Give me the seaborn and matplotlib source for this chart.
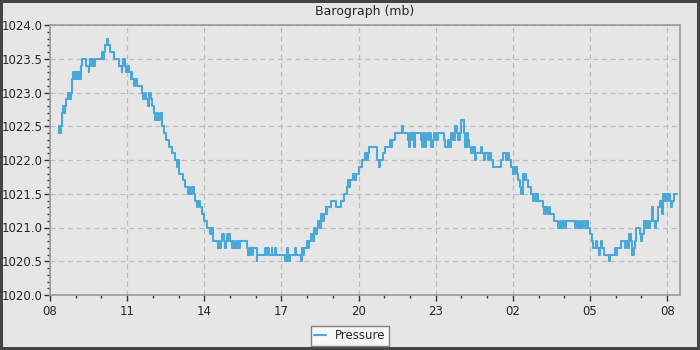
import pandas as pd
import seaborn as sns
import matplotlib.pyplot as plt
import matplotlib.dates as mdates
from matplotlib.ticker import MultipleLocator, FormatStrFormatter

# Barograph readings: minutes after 08:00 and pressure (mb), logged on change
minutes = [
    20, 22, 23, 25, 28, 30, 34, 35, 37, 41, 43, 45, 47, 48, 51, 53, 55, 58, 60, 63,
    66, 68, 70, 72, 75, 83, 90, 92, 94, 97, 99, 101, 104, 121, 123, 125, 129, 132, 136, 140,
    150, 162, 167, 169, 171, 175, 178, 181, 184, 188, 190, 192, 196, 199, 203, 215, 218, 221, 224, 228,
    230, 232, 235, 238, 243, 246, 249, 253, 257, 261, 266, 271, 277, 284, 292, 296, 299, 302, 310, 316,
    321, 324, 327, 331, 335, 338, 344, 346, 350, 355, 359, 367, 373, 376, 380, 391, 393, 395, 398, 402,
    405, 408, 411, 413, 416, 419, 421, 424, 427, 430, 433, 436, 438, 441, 443, 460, 463, 467, 471, 474,
    482, 484, 502, 504, 507, 512, 517, 519, 525, 527, 548, 552, 555, 558, 560, 572, 575, 585, 587, 590,
    593, 599, 602, 605, 609, 613, 616, 619, 622, 625, 629, 632, 636, 640, 643, 646, 647, 655, 668, 678,
    687, 693, 695, 698, 700, 708, 711, 714, 722, 728, 735, 739, 742, 745, 762, 764, 767, 770, 776, 782,
    793, 796, 799, 804, 821, 824, 835, 837, 839, 845, 847, 850, 852, 866, 868, 871, 874, 877, 880, 884,
    887, 890, 893, 897, 901, 905, 920, 922, 928, 932, 936, 941, 944, 949, 952, 957, 958, 966, 969, 972,
    975, 978, 983, 988, 991, 994, 1006, 1008, 1013, 1016, 1022, 1025, 1030, 1033, 1053, 1058, 1063, 1067, 1071, 1075,
    1081, 1086, 1089, 1093, 1097, 1100, 1103, 1106, 1109, 1111, 1115, 1123, 1127, 1129, 1133, 1136, 1139, 1150, 1153, 1156,
    1160, 1164, 1167, 1177, 1186, 1189, 1193, 1197, 1201, 1205, 1224, 1228, 1232, 1236, 1240, 1244, 1248, 1252, 1256, 1259,
    1264, 1268, 1273, 1277, 1281, 1283, 1286, 1289, 1292, 1304, 1307, 1318, 1320, 1322, 1333, 1341, 1345, 1349, 1351, 1356,
    1359, 1362, 1365, 1368, 1376, 1379, 1382, 1387, 1390, 1393, 1396, 1399, 1404, 1407, 1411, 1415, 1419, 1424, 1427, 1431,
    1434, 1437, 1440, 1443, 1446, 1449, 1452, 1455, 1462,
]
pressure = [
    1022.4, 1022.5, 1022.4, 1022.5, 1022.7, 1022.8, 1022.7, 1022.8, 1022.9, 1023.0, 1022.9, 1023.0, 1022.9, 1023.0, 1023.2, 1023.3, 1023.2, 1023.3, 1023.2, 1023.3,
    1023.2, 1023.3, 1023.2, 1023.4, 1023.5, 1023.4, 1023.3, 1023.4, 1023.5, 1023.4, 1023.5, 1023.4, 1023.5, 1023.6, 1023.5, 1023.6, 1023.7, 1023.8, 1023.7, 1023.6,
    1023.5, 1023.4, 1023.3, 1023.4, 1023.5, 1023.4, 1023.3, 1023.4, 1023.3, 1023.2, 1023.3, 1023.2, 1023.1, 1023.2, 1023.1, 1023.0, 1022.9, 1023.0, 1022.9, 1022.8,
    1022.9, 1023.0, 1022.9, 1022.8, 1022.7, 1022.6, 1022.7, 1022.6, 1022.7, 1022.5, 1022.4, 1022.3, 1022.2, 1022.1, 1022.0, 1021.9, 1022.0, 1021.8, 1021.7, 1021.6,
    1021.5, 1021.6, 1021.5, 1021.6, 1021.5, 1021.4, 1021.3, 1021.4, 1021.3, 1021.2, 1021.1, 1021.0, 1020.9, 1021.0, 1020.8, 1020.7, 1020.8, 1020.7, 1020.8, 1020.9,
    1020.8, 1020.7, 1020.8, 1020.9, 1020.8, 1020.9, 1020.8, 1020.7, 1020.8, 1020.7, 1020.8, 1020.7, 1020.8, 1020.7, 1020.8, 1020.7, 1020.6, 1020.7, 1020.6, 1020.7,
    1020.5, 1020.6, 1020.7, 1020.6, 1020.7, 1020.6, 1020.7, 1020.6, 1020.7, 1020.6, 1020.5, 1020.7, 1020.6, 1020.5, 1020.6, 1020.7, 1020.6, 1020.5, 1020.7, 1020.6,
    1020.7, 1020.8, 1020.7, 1020.8, 1020.9, 1020.8, 1021.0, 1020.9, 1021.0, 1021.1, 1021.0, 1021.2, 1021.1, 1021.2, 1021.3, 1021.2, 1021.3, 1021.4, 1021.3, 1021.4,
    1021.5, 1021.6, 1021.7, 1021.6, 1021.7, 1021.8, 1021.7, 1021.8, 1021.9, 1022.0, 1022.1, 1022.0, 1022.1, 1022.2, 1022.1, 1022.0, 1021.9, 1022.0, 1022.1, 1022.2,
    1022.3, 1022.2, 1022.3, 1022.4, 1022.5, 1022.4, 1022.3, 1022.2, 1022.4, 1022.3, 1022.4, 1022.2, 1022.4, 1022.3, 1022.2, 1022.4, 1022.2, 1022.3, 1022.4, 1022.3,
    1022.4, 1022.2, 1022.3, 1022.4, 1022.3, 1022.4, 1022.3, 1022.2, 1022.3, 1022.2, 1022.4, 1022.3, 1022.5, 1022.4, 1022.3, 1022.4, 1022.6, 1022.4, 1022.2, 1022.4,
    1022.3, 1022.2, 1022.1, 1022.2, 1022.0, 1022.1, 1022.2, 1022.1, 1022.0, 1022.1, 1022.0, 1022.1, 1022.0, 1021.9, 1022.0, 1022.1, 1022.0, 1022.1, 1022.0, 1021.9,
    1021.8, 1021.9, 1021.8, 1021.7, 1021.6, 1021.5, 1021.8, 1021.7, 1021.8, 1021.7, 1021.6, 1021.5, 1021.4, 1021.5, 1021.4, 1021.5, 1021.4, 1021.3, 1021.2, 1021.3,
    1021.2, 1021.3, 1021.2, 1021.1, 1021.0, 1021.1, 1021.0, 1021.1, 1021.0, 1021.1, 1021.0, 1021.1, 1021.0, 1021.1, 1021.0, 1021.1, 1021.0, 1021.1, 1021.0, 1020.9,
    1020.8, 1020.7, 1020.8, 1020.7, 1020.6, 1020.7, 1020.8, 1020.7, 1020.6, 1020.5, 1020.6, 1020.7, 1020.6, 1020.7, 1020.8, 1020.7, 1020.8, 1020.7, 1020.9, 1020.8,
    1020.6, 1020.7, 1020.8, 1021.0, 1020.9, 1020.8, 1020.9, 1021.1, 1021.0, 1021.1, 1021.0, 1021.1, 1021.3, 1021.1, 1021.0, 1021.1, 1021.3, 1021.4, 1021.2, 1021.5,
    1021.4, 1021.5, 1021.4, 1021.5, 1021.4, 1021.3, 1021.4, 1021.5, 1021.5,
]

start = pd.Timestamp("2024-01-01 08:00")
df = pd.DataFrame({
    "time": start + pd.to_timedelta(minutes, unit="m"),
    "pressure": pressure,
})

bg = "#e6e6e6"
sns.set_style("ticks", {"axes.facecolor": bg, "figure.facecolor": bg})
plt.rcParams["font.family"] = ["DejaVu Sans"]

fig = plt.figure(figsize=(7, 3.5), dpi=100, facecolor=bg, edgecolor="#444444", linewidth=3)
ax = fig.add_axes([50 / 700, 55 / 350, 630 / 700, 270 / 350])

sns.lineplot(data=df, x="time", y="pressure", ax=ax, drawstyle="steps-post",
             color="#4aa8d8", linewidth=1.5, estimator=None, sort=False, label="Pressure")

ax.set_xlim(start, start + pd.Timedelta(hours=24.5))
ax.set_ylim(1020.0, 1024.0)
ax.xaxis.set_major_locator(mdates.HourLocator(byhour=range(2, 24, 3)))
ax.xaxis.set_minor_locator(mdates.HourLocator())
ax.xaxis.set_major_formatter(mdates.DateFormatter("%H"))
ax.yaxis.set_major_locator(MultipleLocator(0.5))
ax.yaxis.set_minor_locator(MultipleLocator(0.1))
ax.yaxis.set_major_formatter(FormatStrFormatter("%.1f"))

ax.grid(True, which="major", color="#bdbdbd", linestyle=(0, (4, 3)), linewidth=0.9)
for s in ax.spines.values():
    s.set_color("#9a9a9a")
    s.set_linewidth(1.2)
ax.tick_params(which="major", length=4.5, width=1, color="#333333", labelsize=8.5, pad=1)
ax.tick_params(axis="x", which="major", pad=3)
ax.tick_params(which="minor", length=2.5, width=1, color="#333333")
ax.set_xlabel("")
ax.set_ylabel("")
ax.set_title("Barograph (mb)", fontsize=9, pad=7)

ax.legend_.remove()
handles, labels = ax.get_legend_handles_labels()
leg = fig.legend(handles, labels, loc="lower center", bbox_to_anchor=(0.5, -0.005),
                 fontsize=8.5, frameon=True, fancybox=False, handlelength=1.0,
                 borderpad=0.3, handletextpad=0.8)
leg.get_frame().set_edgecolor("#808080")
leg.get_frame().set_facecolor("#f7f7f7")
leg.get_frame().set_alpha(1)

plt.savefig("out.png", dpi=100)
